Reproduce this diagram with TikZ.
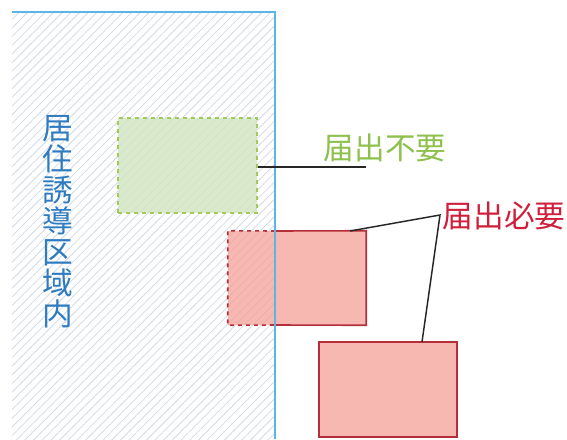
\documentclass[tikz,border=0pt]{standalone}
\usepackage{fontspec}
\newfontfamily\jp{Noto Sans CJK JP}
\usetikzlibrary{patterns.meta}
\definecolor{areablue}{HTML}{5AB6E4}
\definecolor{txtblue}{HTML}{2F7BC0}
\definecolor{hatch}{HTML}{CFDAE6}
\definecolor{gtxt}{HTML}{8DC04C}
\definecolor{gborder}{HTML}{A2CA5A}
\definecolor{gfill}{HTML}{D3E5C3}
\definecolor{rtxt}{HTML}{CF1F3B}
\definecolor{rborder}{HTML}{B52F3A}
\definecolor{rfill}{HTML}{F4A69D}
\begin{document}
\begin{tikzpicture}[x=0.75pt,y=-0.75pt,
  lbl/.style={font=\jp\fontsize{23pt}{23.25pt}\selectfont, inner sep=0pt},
  boxg/.style={draw=gborder, dashed, line width=1.1pt, fill=gfill, fill opacity=0.85, draw opacity=1, inner sep=0pt},
  boxr/.style={fill=rfill, fill opacity=0.8, inner sep=0pt},
  rline/.style={draw=rborder, line width=1.2pt},
  conn/.style={draw=black!85, line width=1.1pt}]
\useasboundingbox (0,0) rectangle (567,439);
% area
\path[pattern={Lines[angle=45,distance=4.6pt,line width=0.6pt]}, pattern color=hatch] (12,12) rectangle (275,439);
\coordinate (atl) at (12,12);
\coordinate (atr) at (275,12);
\coordinate (abr) at (275,439);
\node[lbl, text=txtblue, align=center] (area) at (57.5,222) {居\\住\\誘\\導\\区\\域\\内};
% green box
\node[boxg, minimum width=104.25pt, minimum height=71.25pt] (g) at (187.5,165.5) {};
% red box 1
\node[boxr, minimum width=103.5pt, minimum height=70.5pt] (r1) at (297,278) {};
\coordinate (r1mt) at (275,231);
\coordinate (r1mb) at (275,325);
\draw[rline, dashed] (r1mt) -- (r1.north west) -- (r1.south west) -- (r1mb);
\draw[rline] (r1mt) -- (r1.north east) -- (r1.south east) -- (r1mb);
% red box 2
\node[boxr, rline, minimum width=103.5pt, minimum height=71.25pt, draw opacity=1] (r2) at (388,389.5) {};
% area border on top
\draw[areablue, line width=1.7pt] (atl) -- (atr) -- (abr);
% labels
\node[lbl, text=gtxt] (gl) at (385,148) {届出不要};
\node[lbl, text=rtxt] (rl) at (504,216) {届出必要};
% connectors
\coordinate (gend) at (366,167);
\draw[conn] (g.east |- gend) -- (gend);
\coordinate (r1t) at (350,231);
\coordinate (v) at (440,215);
\coordinate (r2t) at (422,342);
\draw[conn] (r1t) -- (v) -- (r2t);
\end{tikzpicture}
\end{document}
